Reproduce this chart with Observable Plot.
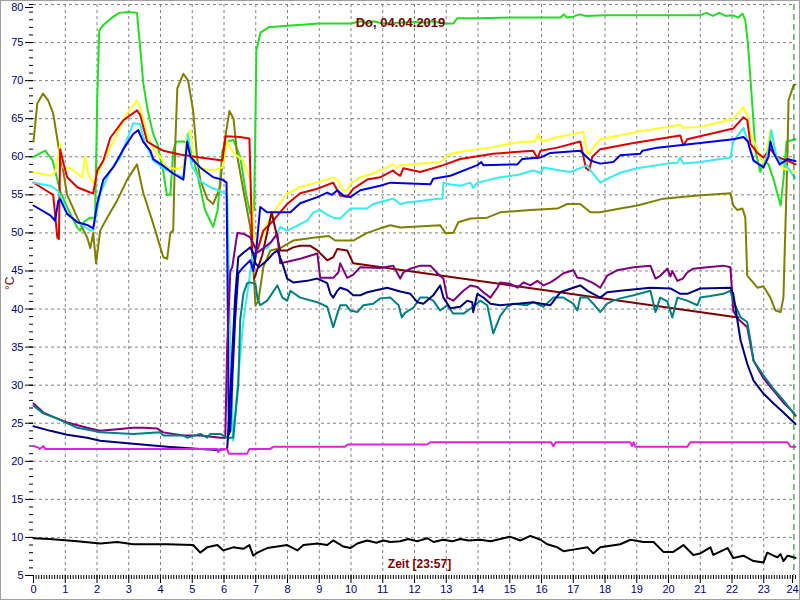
<!DOCTYPE html>
<html><head><meta charset="utf-8">
<script src="https://cdn.jsdelivr.net/npm/d3@7"></script>
<script src="https://cdn.jsdelivr.net/npm/@observablehq/plot@0.6"></script>
<style>
body{margin:0;background:#fff;}
#chart{position:relative;width:800px;height:600px;overflow:hidden;}
#border{position:absolute;left:0;top:0;width:800px;height:600px;box-sizing:border-box;border:1px solid #a0a0a0;pointer-events:none;}
</style>
</head><body><div id="chart"><div id="border"></div></div>
<script>
// ---- data: [hour, °C] ----
const titleText = "Do, 04.04.2019";
const xLabel = "Zeit [23:57]";
const yLabel = "°C";
const nowHour = 23 + 57/60;
const hourTicks = d3.range(0, 25);
const yTicks = d3.range(5, 81, 5);

const green = [[0,60],[0.37,60.8],[0.6,59.5],[0.84,55.5],[1.1,53],[1.38,50.7],[1.47,50.3],[1.6,51.5],[1.79,52],[1.94,52],[2.01,68],[2.07,76.6],[2.2,77.3],[2.45,78.2],[2.7,78.9],[3.0,79],[3.26,78.9],[3.46,69.6],[3.6,66],[3.77,63],[3.9,61.7],[4.09,58],[4.2,55],[4.31,55],[4.4,60.8],[4.5,62],[4.7,62],[4.87,61.8],[5.03,60],[5.25,56],[5.4,53],[5.66,50.8],[5.8,53],[5.95,60.8],[6.1,62],[6.3,62.2],[6.51,60],[6.7,55],[6.83,52.5],[6.95,53],[7.02,74],[7.15,76.3],[7.4,77],[8,77.2],[9,77.5],[10,77.5],[10.3,77.8],[10.5,77.5],[10.7,77.8],[11,77.5],[11.5,77.6],[12,77.7],[12.4,77.6],[12.5,77.8],[13.0,77.5],[13.22,77.5],[13.35,78.2],[14,78.2],[15,78.3],[16,78.3],[16.6,78.3],[16.7,78.7],[16.8,78.3],[17,78.4],[17.2,78.7],[17.4,78.5],[18,78.6],[19,78.6],[20,78.6],[21,78.6],[21.2,78.9],[21.4,78.5],[21.6,78.9],[21.8,78.5],[22.0,78.6],[22.2,78.3],[22.33,78.8],[22.42,77.9],[22.5,74.9],[22.62,68],[22.74,60.8],[22.89,58],[23.0,59.5],[23.15,59],[23.31,57],[23.53,53.6],[23.62,57],[23.72,62],[24,62.3]];

const olive = [[0,62],[0.12,67],[0.3,68.3],[0.46,67.4],[0.62,65.7],[0.8,61],[0.92,58.5],[1.06,55],[1.38,52],[1.69,49.4],[1.79,48],[1.88,50],[1.97,46],[2.1,50.3],[2.32,52],[2.64,54.3],[2.95,57],[3.26,59],[3.46,55.2],[3.77,51.2],[4.09,46.8],[4.21,46.6],[4.31,50],[4.4,50.3],[4.46,61],[4.53,69],[4.72,70.9],[4.87,70],[5.03,66],[5.15,60],[5.25,57],[5.47,54.5],[5.66,53.8],[5.88,56],[5.98,61],[6.17,66],[6.3,65],[6.42,60],[6.61,55.6],[6.83,50.7],[6.92,45.5],[6.99,40.5],[7.08,41],[7.24,45.5],[7.46,47.7],[7.77,48],[8.18,49],[8.87,49.4],[9.3,49.6],[9.5,49],[10.07,49],[10.51,50],[10.92,50.6],[11.24,51],[11.55,50.7],[12.81,51],[12.97,50],[13.22,50],[13.38,51.4],[13.76,51.9],[14.29,52],[14.7,52.7],[15.65,53],[16.5,53.2],[16.81,53.8],[17.22,53.8],[17.54,52.7],[17.85,52.7],[18.48,53.2],[19.02,53.6],[19.84,54.5],[20.91,54.9],[21.95,55.2],[22.04,53.6],[22.17,53],[22.33,53.2],[22.42,52],[22.48,44.4],[22.8,42.8],[22.99,43],[23.21,41.5],[23.37,39.8],[23.53,39.6],[23.62,41.5],[23.75,60.8],[23.78,67.4],[23.94,69.4],[24,69.5]];

const yellow = [[0,58],[0.53,57.5],[0.68,58],[0.8,60.5],[0.84,61.7],[0.94,58.6],[1.16,58.5],[1.53,57.3],[1.63,60],[1.72,57.8],[1.88,56.6],[2.1,58.5],[2.42,61.2],[2.95,65.7],[3.26,67.4],[3.36,66.5],[3.58,63],[3.77,61],[3.99,60],[4.21,58.6],[4.5,58.4],[4.72,58.7],[4.84,63],[4.94,63.5],[5.03,60],[5.25,58.5],[5.66,58.2],[5.95,58.6],[6.1,62],[6.3,60.5],[6.6,59.5],[6.83,57],[6.95,50],[7.05,47.7],[7.36,51.2],[7.68,53.4],[7.99,55.2],[8.4,56],[8.81,56.5],[9.25,57],[9.44,57.3],[9.6,56.8],[9.73,55.6],[9.88,55.6],[9.98,56.5],[10.29,57.3],[10.7,57.8],[11.14,58.6],[11.33,59],[11.46,58.5],[11.55,58.9],[12.81,59.3],[13.13,60.4],[13.66,60.8],[14,61],[14.5,61.3],[15,61.7],[15.5,62],[15.8,62],[15.9,63],[16,62],[16.5,62.6],[17,63],[17.32,63.3],[17.45,60.3],[17.6,61],[17.85,62.3],[18.9,63.2],[20.37,64.2],[20.47,63.8],[21.0,63.9],[22.04,65],[22.36,66.5],[22.48,65.5],[22.58,63],[22.8,61],[23.0,59],[23.21,63.5],[23.37,60],[23.6,58.5],[23.84,58.2],[24,58]];

const red = [[0,56.6],[0.31,55.8],[0.62,55],[0.75,49.4],[0.8,49.2],[0.84,61],[0.94,59.2],[1.06,57.3],[1.38,56],[1.79,55.3],[1.88,55.2],[2.01,58.2],[2.2,59.5],[2.42,62.5],[2.83,64.8],[3.26,66.1],[3.36,65.5],[3.58,62],[3.9,61.2],[4.09,60.8],[4.62,60.3],[5.25,59.9],[5.95,59.5],[6.05,62.7],[6.5,62.6],[6.8,62.4],[6.9,47],[7.05,47.7],[7.24,50.3],[7.55,51.6],[7.99,53.8],[8.4,55.2],[8.94,55.8],[9.44,56.6],[9.66,54.9],[9.88,54.7],[10.07,55.8],[10.51,57],[10.92,57.3],[11.33,58.2],[11.4,57.9],[11.55,57.5],[11.65,58.5],[12.18,58],[12.91,58.9],[13.44,59.7],[14.48,60.4],[15.74,60.8],[15.87,59.8],[15.97,60.8],[16.5,61.2],[17.22,62],[17.4,58.5],[17.5,58.2],[17.6,60],[17.85,61],[18.9,61.8],[20.37,62.8],[20.47,61.5],[20.59,62.3],[22.04,63.7],[22.36,65.2],[22.48,64.8],[22.58,61.7],[22.8,60.5],[22.99,59.9],[23.21,61],[23.4,60],[23.75,59.5],[24,59]];

const cyan = [[0,56.6],[0.53,56.2],[0.78,55.5],[1.06,52.5],[1.47,51.2],[1.79,50.3],[1.88,50.3],[2.1,55.2],[2.42,58.2],[2.73,59.9],[3.14,64.4],[3.36,64.3],[3.5,62],[3.77,59.5],[4.09,58.5],[4.4,57.8],[4.72,57.3],[4.87,63],[4.97,59],[5.25,56.8],[5.57,56],[5.98,55.3],[6.1,55],[6.2,35],[6.29,22.7],[6.42,29.7],[6.61,38.5],[6.8,44],[6.92,47.7],[7.14,47.7],[7.36,48],[7.68,50],[7.77,50.8],[7.99,50.3],[8.62,51.6],[8.81,52.7],[9.03,53],[9.25,52.4],[9.44,52],[9.66,51.9],[9.98,53.2],[10.51,53.2],[10.7,53.8],[11.14,54.3],[11.33,54.5],[11.55,53.8],[11.77,54],[12.18,54.2],[12.72,54.5],[12.88,54.5],[12.91,56.6],[13.1,56.4],[13.44,56.2],[13.76,56.6],[13.85,55.9],[13.98,56.6],[14.29,56.9],[14.7,57.3],[15.24,57.6],[15.74,58.2],[15.97,57.9],[16.06,58.6],[16.59,58.2],[16.91,58],[17.22,58.5],[17.45,58.9],[17.54,58.2],[17.85,56.6],[18.17,57.3],[18.48,57.9],[19.02,58.5],[19.96,59.1],[20.28,59.2],[20.37,59.9],[20.47,59.1],[21.0,59.3],[21.95,59.9],[22.04,62],[22.36,63.8],[22.5,62],[22.68,59.5],[22.99,58.6],[23.15,61],[23.24,63.5],[23.4,60],[23.75,58.6],[23.94,57.5],[24,57.2]];

const blue = [[0,53.6],[0.53,52.3],[0.68,51.6],[0.78,54.2],[0.84,54.4],[1.06,52.5],[1.38,51.4],[1.72,51],[1.88,50.6],[2.01,53.9],[2.2,57],[2.51,58.6],[2.83,61],[3.14,63],[3.3,63.5],[3.45,62],[3.68,60.8],[3.77,59.7],[4.09,58.8],[4.4,57.8],[4.72,57],[4.84,62],[4.94,60],[5.25,58.6],[5.66,57.3],[5.95,57],[6.08,56.6],[6.12,40],[6.15,23.5],[6.2,24],[6.26,30.6],[6.35,38.5],[6.45,44.7],[6.61,45.5],[6.83,46.4],[6.92,45],[7.0,47],[7.14,53.4],[7.36,52.7],[8.09,52.7],[8.4,53.9],[8.94,54.7],[9.25,55.3],[9.4,55],[9.57,55.6],[9.76,54.9],[9.98,54.7],[10.29,55.6],[10.92,56.2],[11.24,56.6],[12.5,56.4],[12.59,57.1],[13.13,57.5],[13.98,58.9],[14.1,59.3],[14.17,58.9],[15.24,59],[15.39,59.7],[15.97,59.9],[16.28,60.5],[17.22,60.8],[17.54,59.5],[17.85,59.1],[18.26,59.3],[18.48,60.2],[19.11,60.4],[19.18,60.8],[19.65,61.2],[21.0,61.8],[22.04,62.3],[22.36,62.6],[22.5,62],[22.58,60.8],[22.68,59.5],[22.99,58.6],[23.15,60],[23.21,62],[23.31,60.5],[23.5,59],[23.75,59.7],[24,59.4]];

const maroon = [[6.95,44],[7.2,47],[7.5,52.7],[7.77,47.7],[7.99,47.7],[8.18,48.1],[8.4,48.3],[8.72,48.3],[8.94,47.7],[9.25,46.4],[9.44,46.8],[9.57,47.9],[9.88,47.7],[10.07,46],[22.2,38.9]];

const purple = [[0,27.6],[0.31,26.4],[0.75,25.6],[1.06,25.1],[1.69,24.4],[2.1,24],[2.64,24.2],[3.14,24.4],[3.46,24.4],[3.9,24.3],[4.09,23.8],[4.72,23.4],[5.25,23.4],[5.47,23.3],[5.88,23.1],[6.04,23.1],[6.1,35],[6.2,45],[6.26,45.5],[6.42,50],[6.61,49.9],[6.83,49.4],[6.99,48],[7.05,47.4],[7.21,47.9],[7.46,48.7],[7.68,49.9],[7.77,46],[7.99,46.2],[8.4,46.6],[8.94,47.3],[9.03,44.1],[9.44,44.1],[9.6,44.8],[9.66,46],[9.88,44.1],[10.07,44.5],[10.29,45.5],[10.92,45.4],[11.33,45.7],[11.55,44],[11.65,44.8],[11.87,45.3],[12.18,45.7],[12.5,45.7],[12.72,44.7],[12.91,44],[13.03,41.5],[13.22,41.1],[13.54,42.4],[13.76,43.1],[13.98,42.9],[14.17,42.2],[14.39,41.5],[14.61,42.8],[14.7,43.5],[15.02,43.3],[15.24,42.8],[15.43,43.5],[15.65,43.1],[15.87,43.7],[16.06,43.1],[16.28,43.5],[16.5,44.1],[16.69,44.7],[17.0,45.1],[17.13,44.1],[17.32,44],[17.63,43.4],[17.85,42.8],[18.07,44.4],[18.39,45.1],[18.9,45.5],[19.43,45.7],[19.59,44],[19.75,44.4],[19.96,45.3],[20.06,44.3],[20.12,45],[20.28,43.7],[20.45,44],[20.59,44.8],[20.78,45.3],[21.22,45.5],[21.73,45.7],[21.95,45.5],[22.04,39.8],[22.17,38.8],[22.48,37.6],[22.68,33.2],[22.99,30.9],[23.31,29.3],[23.62,27.7],[23.94,26.4],[24,26]];

const teal = [[0,27.3],[0.31,26.3],[0.75,25.6],[1.38,24.4],[1.88,24],[2.1,23.8],[3.14,23.6],[3.99,23.8],[4.09,23.4],[4.72,23.4],[4.84,23.1],[5.25,23.6],[5.47,23.1],[5.57,23.6],[5.88,23.6],[6.1,23.1],[6.29,23.1],[6.45,30],[6.51,38.5],[6.61,42],[6.73,43.4],[6.83,43.5],[6.99,43.3],[7.05,41.5],[7.14,40.5],[7.36,41.1],[7.68,43.1],[7.84,41.5],[7.99,41.1],[8.09,42.4],[8.4,41.5],[8.94,40.9],[9.25,40.3],[9.35,38.9],[9.44,37.6],[9.57,39.4],[9.66,40.5],[9.85,40.5],[9.98,39.8],[10.2,39.6],[10.39,40.5],[10.7,40.7],[10.92,41.4],[11.24,41.5],[11.5,40.5],[11.6,38.9],[11.7,39.5],[11.97,40.2],[12.18,41.5],[12.4,41.5],[12.59,41.1],[12.81,39.8],[13.03,40.5],[13.22,39.4],[13.54,39.4],[13.85,40.3],[14.07,41.1],[14.29,40.5],[14.48,36.8],[14.7,39.1],[14.92,40.3],[15.11,40.7],[15.55,40.5],[15.74,40.9],[16.06,40.3],[16.37,41.5],[16.69,41.5],[17.0,40.7],[17.13,39.8],[17.22,41.5],[17.45,41.5],[17.63,40.7],[17.85,39.6],[18.07,40.7],[18.26,41.1],[18.48,41.4],[18.9,41.8],[19.43,42.4],[19.59,39.6],[19.74,41.5],[19.96,41],[20.12,38.9],[20.28,41.5],[20.59,41.1],[20.91,40.5],[21.0,41.5],[21.32,41.7],[21.73,42],[21.95,42.4],[22.04,41.1],[22.27,38.9],[22.48,38.3],[22.58,35.9],[22.68,33.2],[22.99,31.3],[23.31,29.5],[23.62,28],[23.94,26.3],[24,26]];

const navy = [[0,24.6],[0.53,24.0],[1.06,23.5],[1.69,23.1],[2.1,22.7],[3.14,22.3],[4.21,21.9],[5.25,21.6],[5.79,21.5],[6.1,21.6],[6.15,25],[6.26,34.1],[6.35,41.5],[6.45,46.8],[6.61,47.4],[6.83,48.1],[6.92,47.3],[6.99,46],[7.1,45.5],[7.36,46.4],[7.55,47.3],[7.68,47.7],[7.84,46],[7.99,44],[8.18,43.5],[8.62,43.7],[8.94,44],[9.25,43.4],[9.35,42],[9.44,41.5],[9.57,42.4],[9.66,42.8],[9.88,42.5],[10.07,41.8],[10.29,41.8],[10.51,42.2],[11.14,42.8],[11.55,42.3],[11.87,42],[12.09,40.9],[12.28,40.7],[12.59,41.8],[12.81,43.1],[12.91,41.5],[13.13,40.1],[13.44,40.3],[13.66,41.1],[13.82,40.9],[13.85,39.6],[13.98,42],[14.17,41.5],[14.39,40.7],[14.7,40.5],[15.24,40.7],[15.74,40.9],[16.28,40.5],[16.59,42.2],[17.0,42.8],[17.22,43.1],[17.45,42.4],[17.85,41.5],[18.07,42.2],[18.48,42.4],[19.43,42.8],[20.06,42.7],[20.37,42],[20.59,42],[21.0,42.7],[21.95,42.8],[22.04,42],[22.17,38.5],[22.27,35.9],[22.48,32.8],[22.68,30.6],[22.99,28.9],[23.31,27.6],[23.62,26.4],[24,24.9]];

const magenta = [[0,22],[0.15,21.8],[0.2,21.6],[0.31,22],[0.37,21.6],[5.79,21.6],[5.82,21.2],[5.88,21.6],[6.1,21.6],[6.15,21.0],[6.73,21.0],[6.8,21.6],[7.45,21.6],[7.55,21.9],[9.8,21.9],[9.9,22.2],[12.4,22.2],[12.5,22.5],[16.3,22.5],[16.37,22.0],[16.45,22.5],[18.8,22.5],[18.85,22.0],[18.9,22.5],[18.96,21.9],[20.59,21.9],[20.69,22.5],[23.75,22.5],[23.84,21.9],[24,21.9]];

const black = [[0,9.9],[0.5,9.8],[1.38,9.5],[2.1,9.2],[2.64,9.4],[3.14,9.1],[4.21,9.1],[5.03,9.0],[5.25,8.0],[5.47,8.7],[5.79,9.0],[5.98,8.3],[6.29,8.7],[6.61,8.5],[6.8,9.0],[6.92,7.6],[7.05,8.0],[7.36,8.6],[7.68,8.8],[7.99,9.0],[8.31,8.3],[8.5,9.0],[8.94,9.2],[9.25,9.0],[9.44,9.6],[9.76,8.8],[9.98,8.6],[10.2,9.2],[10.51,9.6],[10.8,9.3],[11.02,9.6],[11.24,9.4],[11.55,9.5],[11.8,9.8],[12.09,9.5],[12.4,9.9],[12.6,9.4],[12.9,9.7],[13.2,9.5],[13.44,9.8],[13.7,9.6],[14.07,9.7],[14.4,9.5],[14.7,9.8],[15.0,10.1],[15.33,9.6],[15.65,10.2],[15.97,9.7],[16.18,9.1],[16.5,8.7],[16.69,8.2],[17.0,8.4],[17.45,8.7],[17.63,7.9],[17.85,8.7],[18.48,9.1],[18.8,9.7],[19.21,9.4],[19.53,9.4],[19.84,8.1],[20.15,8.1],[20.47,9.0],[20.78,7.7],[21.0,7.9],[21.32,8.7],[21.41,7.7],[21.86,8.6],[22.04,7.3],[22.36,7.6],[22.68,6.9],[22.99,6.7],[23.11,8.0],[23.31,7.6],[23.43,7.4],[23.53,7.8],[23.62,6.9],[23.75,7.6],[23.94,7.4],[24,7.3]];

// series ids (not CSS colour names, so the colour scale is used)
const seriesNames  = ["S01","S02","S03","S04","S05","S06","S07","S08","S09","S10","S11","S12"];
const seriesColors = ["#22dd22","#808000","#ffff22","#e00000","#33eeee","#0000e6","#800000","#800080","#008080","#000080","#e020e0","#000000"];
const seriesData   = [green, olive, yellow, red, cyan, blue, maroon, purple, teal, navy, magenta, black];

// ---- build table ----
const rows = seriesData.flatMap((d, i) => d.map(([h, v]) => ({series: seriesNames[i], h, v})));
const minorX = d3.range(0, 24 * 12 + 1).map(i => i / 12);
const minorY = d3.range(5, 81);
const fontFam = "'Liberation Sans', Arial, sans-serif";

const plot = Plot.plot({
  width: 800, height: 600,
  marginLeft: 33, marginRight: 5, marginTop: 4, marginBottom: 25,
  style: {background: "#fff", fontFamily: fontFam, fontSize: "11px"},
  x: {domain: [0, 24], axis: null},
  y: {domain: [5, 80], axis: null},
  color: {domain: seriesNames, range: seriesColors},
  marks: [
    Plot.ruleX(hourTicks.slice(1, 24), {stroke: "#808080", strokeDasharray: "3,3"}),
    Plot.ruleY(yTicks.slice(1), {stroke: "#808080", strokeDasharray: "3,3"}),
    Plot.axisY({ticks: minorY, tickSize: 4, tickFormat: () => "", label: null, stroke: "#000"}),
    Plot.axisY({ticks: yTicks.slice(0, -1), tickSize: 8, tickPadding: 2, label: null, stroke: "#000", fill: "#000080"}),
    Plot.axisY({ticks: yTicks.slice(-1), tickSize: 8, tickPadding: 2, dy: 3, label: null, stroke: "#000", fill: "#000080"}),
    Plot.axisX({ticks: minorX, tickSize: 4, tickFormat: () => "", label: null, stroke: "#000"}),
    Plot.axisX({ticks: hourTicks.slice(0, -1), tickSize: 8, tickPadding: 2, label: null, stroke: "#000", fill: "#000080"}),
    Plot.axisX({ticks: hourTicks.slice(-1), tickSize: 8, tickPadding: 2, dx: -3, label: null, stroke: "#000", fill: "#000080"}),
    Plot.line(rows, {x: "h", y: "v", z: "series", stroke: "series", strokeWidth: 2}),
    Plot.ruleX([nowHour], {stroke: "#008000", strokeDasharray: "6,4", strokeWidth: 1}),
    Plot.text([titleText], {frameAnchor: "top", dx: -14, dy: 13, fill: "#800000", fontWeight: "bold", fontSize: 13}),
    Plot.text([xLabel], {frameAnchor: "bottom", dx: 5, dy: -8, fill: "#800000", fontWeight: "bold", fontSize: 12}),
    Plot.text([yLabel], {frameAnchor: "left", dx: -23, rotate: -90, fill: "#800000", fontSize: 12})
  ]
});
document.getElementById("chart").prepend(plot);
</script></body></html>
